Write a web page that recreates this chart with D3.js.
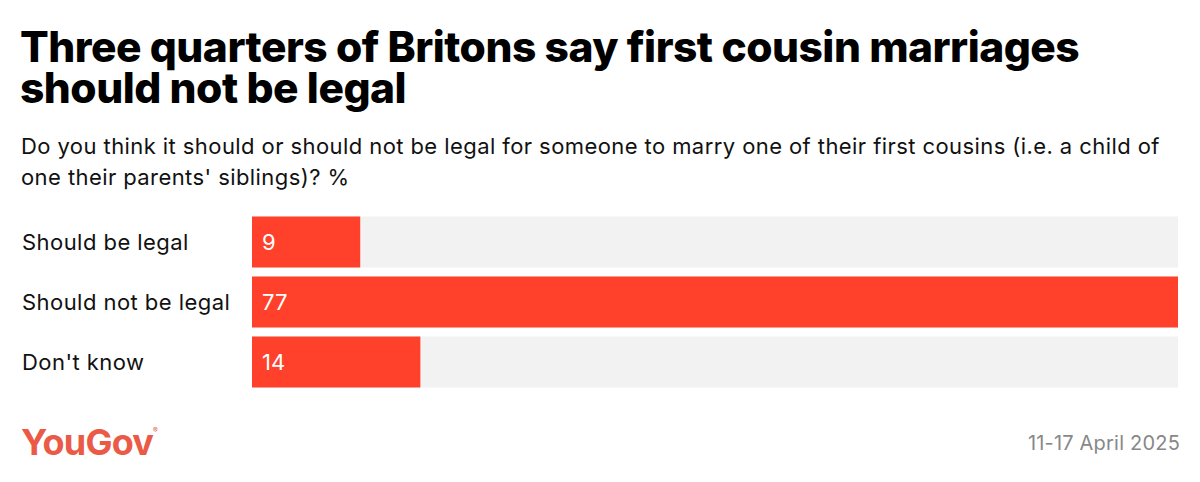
<!DOCTYPE html>
<html>
<head>
<meta charset="utf-8">
<script src="https://cdn.jsdelivr.net/npm/d3@7"></script>
<style>
  body { margin: 0; background: #fff; }
  svg { display: block; font-family: Inter, "Noto Sans", sans-serif; }
</style>
</head>
<body>
<svg id="chart" width="1200" height="482"></svg>
<script>
var categories = ["Should be legal", "Should not be legal", "Don't know"];
var values = [9, 77, 14];
var titleLines = ["Three quarters of Britons say first cousin marriages", "should not be legal"];
var subtitleLines = ["Do you think it should or should not be legal for someone to marry one of their first cousins (i.e. a child of", "one their parents' siblings)? %"];
var dateText = "11-17 April 2025";

var svg = d3.select("#chart");
var width = +svg.attr("width");

// title
svg.append("g").selectAll("text")
    .data(titleLines)
    .enter().append("text")
      .attr("x", 20)
      .attr("y", function(d, i) { return 62 + i * 41; })
      .attr("font-size", 42.5)
      .attr("font-weight", 800)
      .attr("letter-spacing", -0.5)
      .attr("fill", "#000")
      .text(function(d) { return d; });

svg.append("g").selectAll("text")
    .data(subtitleLines)
    .enter().append("text")
      .attr("x", 21)
      .attr("y", function(d, i) { return 154 + i * 31; })
      .attr("font-size", 22)
      .attr("letter-spacing", 0.42)
      .attr("fill", "#111")
      .text(function(d) { return d; });

var x = d3.scaleLinear()
    .domain([0, d3.max(values)])
    .range([252, 1178]);

var y = d3.scaleBand()
    .domain(categories)
    .range([212, 392])
    .paddingInner(0.15)
    .paddingOuter(0.075);

var rows = svg.append("g").selectAll("g")
    .data(categories)
    .enter().append("g");

rows.append("rect")
    .attr("x", x(0))
    .attr("y", function(d) { return y(d); })
    .attr("width", x.range()[1] - x(0))
    .attr("height", y.bandwidth())
    .attr("fill", "#f2f2f2");

rows.append("rect")
    .attr("x", x(0))
    .attr("y", function(d) { return y(d); })
    .attr("width", function(d, i) { return x(values[i]) - x(0); })
    .attr("height", y.bandwidth())
    .attr("fill", "#ff412c");

rows.append("text")
    .attr("x", 22)
    .attr("y", function(d) { return y(d) + y.bandwidth() / 2; })
    .attr("dy", "0.35em")
    .attr("font-size", 22)
    .attr("letter-spacing", 0.45)
    .attr("fill", "#111")
    .text(function(d) { return d; });

rows.append("text")
    .attr("x", x(0) + 10)
    .attr("y", function(d) { return y(d) + y.bandwidth() / 2; })
    .attr("dy", "0.35em")
    .attr("font-size", 22)
    .attr("fill", "#fff")
    .text(function(d, i) { return values[i]; });

// footer
svg.append("text")
    .attr("x", 21)
    .attr("y", 455)
    .attr("font-size", 36)
    .attr("font-weight", 700)
    .attr("letter-spacing", -0.8)
    .attr("fill", "#ea5a47")
    .text("YouGov");
svg.append("text")
    .attr("x", 153)
    .attr("y", 433)
    .attr("font-size", 7)
    .attr("fill", "#ea5a47")
    .text("®");

svg.append("text")
    .attr("x", width - 20)
    .attr("y", 450)
    .attr("text-anchor", "end")
    .attr("font-size", 20)
    .attr("letter-spacing", 0.2)
    .attr("fill", "#888")
    .text(dateText);
</script>
</body>
</html>
